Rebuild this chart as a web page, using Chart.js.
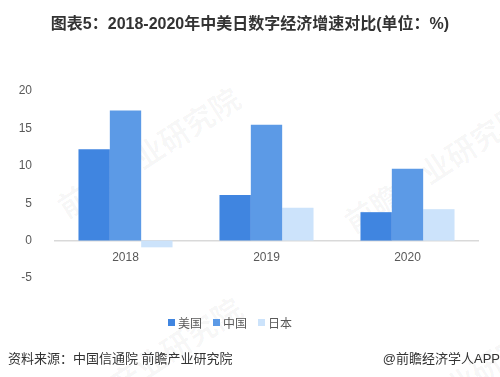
<!DOCTYPE html>
<html>
<head>
<meta charset="utf-8">
<script src="https://cdn.jsdelivr.net/npm/chart.js@4/dist/chart.umd.min.js"></script>
<style>
  body { margin: 0; width: 500px; height: 377px; position: relative; overflow: hidden; background: #fff;
         font-family: "Liberation Sans", "Noto Sans CJK SC", sans-serif; }
  #wrap { position: absolute; left: 0; top: 0; width: 500px; height: 377px; }
  .title { position: absolute; top: 10px; left: 0; width: 500px; text-align: center; font-size: 16px;
           font-weight: bold; color: #333; }
  .legend { position: absolute; top: 314px; left: 168px; display: flex; font-size: 12px; color: #595959; }
  .legend span { display: flex; align-items: center; margin-right: 11px; }
  .legend i { display: inline-block; width: 7px; height: 7px; margin-right: 3px; }
  .src { position: absolute; top: 348px; left: 8px; font-size: 13px; color: #333; }
  .app { position: absolute; top: 348px; right: 0; font-size: 13px; color: #333; }
  .wm { position: absolute; font-size: 30px; font-weight: bold; color: rgba(0,0,0,0.035);
        transform: rotate(-33deg); transform-origin: left top; white-space: nowrap; }
</style>
</head>
<body>
<div class="wm" style="left:48px;top:190px;">前瞻产业研究院</div>
<div class="wm" style="left:335px;top:205px;">前瞻产业研究院</div>
<div class="wm" style="left:50px;top:400px;">前瞻产业研究院</div>
<div class="wm" style="left:360px;top:420px;">前瞻产业研究院</div>
<div id="wrap"><canvas id="chart"></canvas></div>
<div class="title">图表5：2018-2020年中美日数字经济增速对比(单位：%)</div>
<div class="legend" id="legend"></div>
<div class="src">资料来源：中国信通院 前瞻产业研究院</div>
<div class="app">@前瞻经济学人APP</div>
<script>
const years = ['2018', '2019', '2020'];
const seriesNames = ['美国', '中国', '日本'];
const usa = [12.2, 6.1, 3.8];
const china = [17.4, 15.5, 9.6];
const japan = [-0.9, 4.4, 4.2];
const colors = ['#4085e0', '#5c9ae6', '#cce3fb'];

const legend = document.getElementById('legend');
seriesNames.forEach((name, i) => {
  legend.innerHTML += '<span><i style="background:' + colors[i] + '"></i>' + name + '</span>';
});

const ctx = document.getElementById('chart');
new Chart(ctx, {
  type: 'bar',
  data: {
    labels: years,
    datasets: [
      { label: seriesNames[0], data: usa, backgroundColor: colors[0] },
      { label: seriesNames[1], data: china, backgroundColor: colors[1] },
      { label: seriesNames[2], data: japan, backgroundColor: colors[2] }
    ]
  },
  options: {
    responsive: true,
    maintainAspectRatio: false,
    animation: false,
    datasets: { bar: { categoryPercentage: 0.667, barPercentage: 1.0 } },
    layout: { padding: { left: 0, right: 22, top: 91, bottom: 99 } },
    plugins: { legend: { display: false }, tooltip: { enabled: false } },
    scales: {
      x: {
        position: { y: 0 },
        grid: { display: false },
        border: { display: true, color: '#d9d9d9', width: 1.5 },
        ticks: { color: '#595959', font: { size: 12, family: 'Liberation Sans' }, padding: 2 },
        afterFit: scale => { scale.height = 22; }
      },
      y: {
        min: -5,
        max: 20,
        grid: { display: false },
        border: { display: false },
        ticks: { stepSize: 5, color: '#595959', font: { size: 12, family: 'Liberation Sans' }, padding: 15 },
        afterFit: scale => { scale.width = 55; }
      }
    }
  }
});
</script>
</body>
</html>
